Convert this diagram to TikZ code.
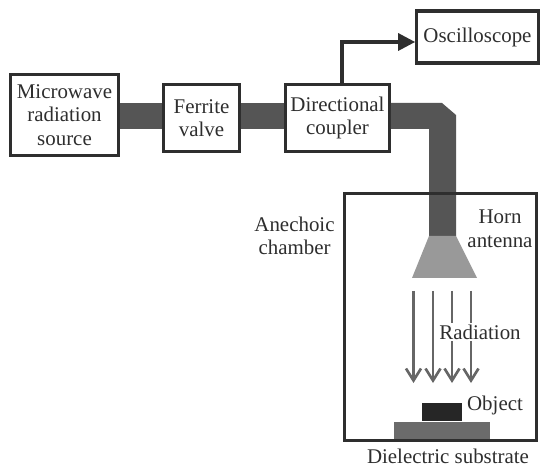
\documentclass[tikz,border=0pt]{standalone}
\usepackage{fontspec}
\setmainfont{Liberation Serif}
\usepackage{tikz}
\usetikzlibrary{arrows.meta,positioning,calc}
\definecolor{inkgray}{HTML}{2E2E2E}
\definecolor{guidegray}{HTML}{555555}
\definecolor{horngray}{HTML}{999999}
\definecolor{raygray}{HTML}{666666}

\begin{document}
\begin{tikzpicture}[
    box/.style={draw=inkgray, line width=1.8pt, inner sep=0pt, align=center, text=inkgray, font=\fontsize{11.9}{13.4}\selectfont},
    lbl/.style={inner sep=1pt, align=center, text=inkgray, font=\fontsize{11.9}{13.4}\selectfont},
    guide/.style={guidegray, line width=0.52cm},
    ray/.style={raygray, line width=1.5pt, -{Straight Barb[length=2.4mm,width=3mm,line width=1.5pt]}},
    sig/.style={inkgray, line width=1.8pt, -{Triangle[length=3.4mm,width=3.4mm]}}
]
\useasboundingbox (0,0) rectangle (11,-9.42);
\fill[white] (0,0) rectangle (11,-9.42);

\node[box, minimum width=2.15cm, minimum height=1.62cm] (source) at (1.29,-2.3) {Microwave\\radiation\\source};
\node[box, minimum width=1.51cm, minimum height=1.33cm] (valve) at (4.03,-2.36) {Ferrite\\valve};
\node[box, minimum width=2.07cm, minimum height=1.33cm] (coupler) at (6.75,-2.36) {Directional\\coupler};
\node[box, minimum width=2.43cm, minimum height=1.04cm] (scope) at (9.55,-0.74) {Oscilloscope};
\coordinate (bus) at (0,-2.32);
\coordinate (horntl) at (8.58,-4.72);
\coordinate (horntr) at (9.12,-4.72);
\coordinate (hornbr) at (9.54,-5.56);
\coordinate (hornbl) at (8.24,-5.56);

% waveguide runs
\draw[guide] (source.east |- bus) -- (valve.west |- bus);
\draw[guide] (valve.east |- bus) -- (coupler.west |- bus);
\fill[guidegray] (coupler.east |- 0,-2.06) -- (8.84,-2.06) -- (9.12,-2.3) -- (horntr)
    -- (horntl) -- (8.58,-2.58) -- (coupler.east |- 0,-2.58) -- cycle;
\fill[horngray] (horntl) -- (horntr) -- (hornbr) -- (hornbl) -- cycle;
\draw[sig] ([xshift=0.09cm]coupler.north) |- ([yshift=-0.1cm]scope.west);

\node[fill=black!85, minimum width=0.8cm, minimum height=0.36cm, inner sep=0pt] (object) at (8.84,-8.24) {};
\node[fill=black!58, minimum width=1.91cm, minimum height=0.4cm, inner sep=0pt, below=0pt of object] (substrate) {};
\node[draw=inkgray, line width=1.8pt, minimum width=3.84cm, minimum height=4.94cm, inner sep=0pt] (chamber) at (8.81,-6.34) {};

% rays
\foreach \i/\x in {1/8.27,2/8.66,3/9.04,4/9.42}{
    \coordinate (raytop\i) at (\x,-5.82);
    \coordinate (raytip\i) at (\x,-7.66);
    \draw[ray] (raytop\i) -- (raytip\i);
}

\node[lbl] (anechoic) at (5.89,-4.72) {Anechoic\\chamber};
\node[lbl] (hornlbl) at (10,-4.58) {Horn\\antenna};
\node[lbl, fill=white] (radiation) at (9.6,-6.64) {Radiation};
\node[lbl] (objlbl) at (9.9,-8.1) {Object};
\node[lbl] (sublbl) at (8.96,-9.13) {Dielectric substrate};
\end{tikzpicture}
\end{document}
